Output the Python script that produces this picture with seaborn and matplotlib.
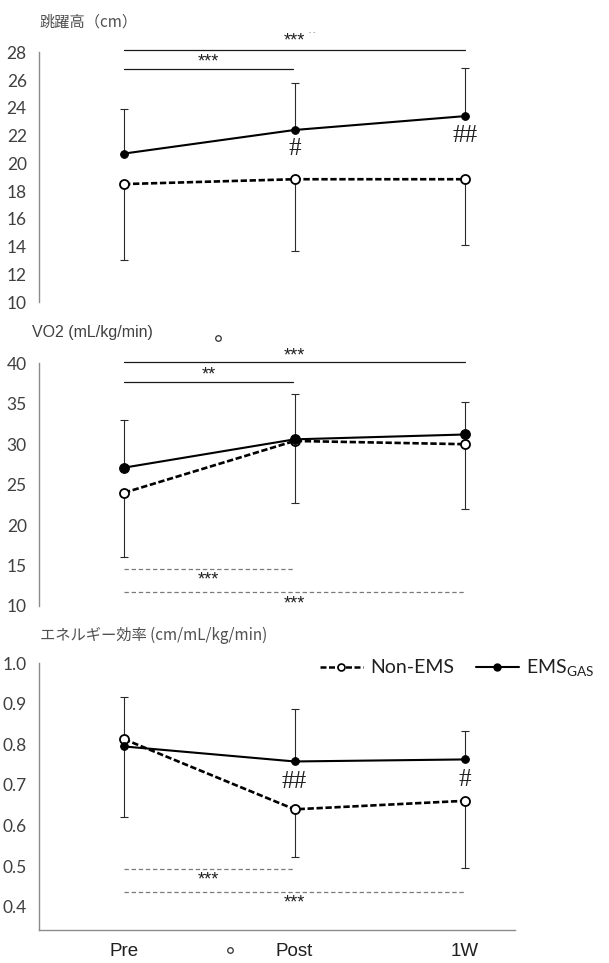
import numpy as np
import pandas as pd
import matplotlib
matplotlib.use("Agg")
import matplotlib.pyplot as plt
import seaborn as sns
from matplotlib.lines import Line2D

# ---------------- data ----------------
timepoints = ["Pre", "Post", "1W"]
x_pos = [0, 1, 2]

jump_ems = [20.7, 22.4, 23.4]
jump_ems_upper = [23.9, 25.8, 26.85]
jump_non = [18.5, 18.85, 18.85]
jump_non_lower = [13.0, 13.7, 14.1]

vo2_ems = [27.1, 30.6, 31.2]
vo2_ems_upper = [33.0, 36.2, 35.2]
vo2_non = [24.0, 30.4, 30.0]
vo2_non_lower = [16.1, 22.7, 22.0]

eff_ems = [0.795, 0.758, 0.763]
eff_ems_upper = [0.918, 0.888, 0.832]
eff_non = [0.813, 0.640, 0.661]
eff_non_lower = [0.620, 0.523, 0.495]

jump_ticks = [10, 12, 14, 16, 18, 20, 22, 24, 26, 28]
vo2_ticks = [10, 15, 20, 25, 30, 35, 40]
eff_ticks = [0.4, 0.5, 0.6, 0.7, 0.8, 0.9, 1.0]

titles = ["跳躍高（cm）", "VO2 (mL/kg/min)", "エネルギー効率 (cm/mL/kg/min)"]

# ---------------- style ----------------
sns.set_style("white")
plt.rcParams["font.family"] = ["Lato", "DejaVu Sans"]

W, H = 609, 963
fig = plt.figure(figsize=(W / 100, H / 100), dpi=100)

def px_axes(left, right, top, bottom):
    return fig.add_axes([left / W, 1 - bottom / H, (right - left) / W, (bottom - top) / H])

TICK_C = "#404040"
SPINE_C = "#8c8c8c"
CJK = ["Noto Sans CJK JP", "DejaVu Sans"]

def setup(ax, ylim, ticks, fmt, bottom_spine=False):
    ax.set_xlim(-0.497, 2.293)
    ax.set_ylim(*ylim)
    ax.set_yticks(ticks)
    ax.set_yticklabels([fmt.format(t) for t in ticks], fontsize=12.5, color=TICK_C,
                       family=["Lato", "DejaVu Sans"])
    ax.tick_params(axis="y", length=0, pad=9)
    for s in ["top", "right"]:
        ax.spines[s].set_visible(False)
    ax.spines["left"].set_color(SPINE_C)
    ax.spines["left"].set_linewidth(1.0)
    if bottom_spine:
        ax.spines["bottom"].set_color(SPINE_C)
        ax.spines["bottom"].set_linewidth(1.0)
        ax.set_xticks(x_pos)
        ax.set_xticklabels(timepoints, fontsize=13.5, color="#202020",
                           family=["Liberation Sans", "DejaVu Sans"])
        ax.tick_params(axis="x", length=0, pad=9)
    else:
        ax.spines["bottom"].set_visible(False)
        ax.set_xticks([])
    ax.set_xlabel("")
    ax.set_ylabel("")
    ax.set_facecolor("none")

def draw_series(ax, ems, ems_up, non, non_lo, ms_ems=5.5, ms_non=6.5):
    ems = np.array(ems); non = np.array(non)
    ax.errorbar(x_pos, ems, yerr=[np.zeros(3), np.array(ems_up) - ems], fmt="none",
                ecolor="#2a2a2a", elinewidth=0.8, capsize=3, capthick=0.8, zorder=1)
    ax.errorbar(x_pos, non, yerr=[non - np.array(non_lo), np.zeros(3)], fmt="none",
                ecolor="#2a2a2a", elinewidth=0.8, capsize=3, capthick=0.8, zorder=1)
    df_non = pd.DataFrame({"x": x_pos, "v": non})
    df_ems = pd.DataFrame({"x": x_pos, "v": ems})
    sns.lineplot(data=df_non, x="x", y="v", ax=ax, color="black", linewidth=1.9,
                 marker="o", markersize=ms_non, markerfacecolor="white",
                 markeredgecolor="black", markeredgewidth=1.3, zorder=3)
    ax.lines[-1].set_dashes((2.4, 1.0))
    sns.lineplot(data=df_ems, x="x", y="v", ax=ax, color="black", linewidth=1.5,
                 marker="o", markersize=ms_ems, markerfacecolor="black",
                 markeredgecolor="black", zorder=4)

def sig(ax, x0, x1, y, ty, txt, dashed=False):
    if dashed:
        ax.plot([x0, x1], [y, y], color="#7a7a7a", lw=0.9, ls=(0, (3.5, 2.2)), clip_on=False)
    else:
        ax.plot([x0, x1], [y, y], color="#1a1a1a", lw=0.9, clip_on=False)
    ax.text((x0 + x1) / 2, ty, txt, ha="center", va="center", fontsize=13,
            color="#202020", family=["Liberation Sans"], clip_on=False)

HASH = dict(ha="center", va="center", fontsize=18, color="#202020",
            family=["Liberation Serif", "DejaVu Serif"])

# ---------------- panel 1: jump height ----------------
ax1 = px_axes(39.3, 515, 52.3, 302)
draw_series(ax1, jump_ems, jump_ems_upper, jump_non, jump_non_lower, ms_ems=5.5, ms_non=6.5)
setup(ax1, (10, 28), jump_ticks, "{:d}")
sig(ax1, 0, 2, 28.2, 28.8, "***")
sig(ax1, 0, 0.99, 26.8, 27.3, "***")
ax1.text(1, 21.0, "#", **HASH)
ax1.text(2, 21.95, "##", **HASH)
ax1.text(1.1, 29.55, ". .", fontsize=6, color="#606060", ha="center", va="center")
fig.text(40 / W, 1 - 22 / H, titles[0], fontsize=11, color="#505050", family=CJK,
         ha="left", va="center")

# ---------------- panel 2: VO2 ----------------
ax2 = px_axes(39.3, 515, 363.3, 606)
draw_series(ax2, vo2_ems, vo2_ems_upper, vo2_non, vo2_non_lower, ms_ems=7, ms_non=6.5)
setup(ax2, (10, 40), vo2_ticks, "{:d}")
sig(ax2, 0, 2, 40.1, 40.9, "***")
sig(ax2, 0, 0.99, 37.7, 38.55, "**")
sig(ax2, 0, 0.99, 14.6, 13.2, "***", dashed=True)
sig(ax2, 0, 2, 11.7, 10.3, "***", dashed=True)
ax2.plot([0.551], [43.1], marker="o", ms=4, mfc="white", mec="#303030", mew=0.9,
         clip_on=False)
fig.text(32 / W, 1 - 333 / H, titles[1], fontsize=11.5, color="#404040",
         family=["Liberation Sans", "DejaVu Sans"], ha="left", va="center")

# ---------------- panel 3: energy efficiency ----------------
ax3 = px_axes(39.3, 515, 663.3, 930)
draw_series(ax3, eff_ems, eff_ems_upper, eff_non, eff_non_lower, ms_ems=5.5, ms_non=6.5)
setup(ax3, (0.3425, 1.0), eff_ticks, "{:.1f}", bottom_spine=True)
sig(ax3, 0, 0.99, 0.494, 0.467, "***", dashed=True)
sig(ax3, 0, 2, 0.436, 0.409, "***", dashed=True)
ax3.text(1, 0.707, "##", **HASH)
ax3.text(2, 0.713, "#", **HASH)
ax3.plot([0.622], [0.293], marker="o", ms=4, mfc="white", mec="#303030", mew=0.9,
         clip_on=False)
fig.text(40 / W, 1 - 635 / H, titles[2], fontsize=11, color="#505050", family=CJK,
         ha="left", va="center")

# legend
h_non = Line2D([], [], color="black", lw=1.8, ls=(0, (2.4, 1.0)), marker="o", ms=5,
               mfc="white", mec="black", mew=1.2)
h_ems = Line2D([], [], color="black", lw=1.5, marker="o", ms=5, mfc="black", mec="black")
fig.legend([h_non, h_ems], ["Non-EMS", r"EMS$_{\mathregular{GAS}}$"], loc="center right",
           bbox_to_anchor=(612 / W, 1 - 668 / H), ncol=2, frameon=False,
           handlelength=2.2, handletextpad=0.4, columnspacing=1.1,
           prop={"family": ["Lato", "DejaVu Sans"], "size": 14}, labelcolor="#202020")

fig.savefig("out.png", dpi=100)
